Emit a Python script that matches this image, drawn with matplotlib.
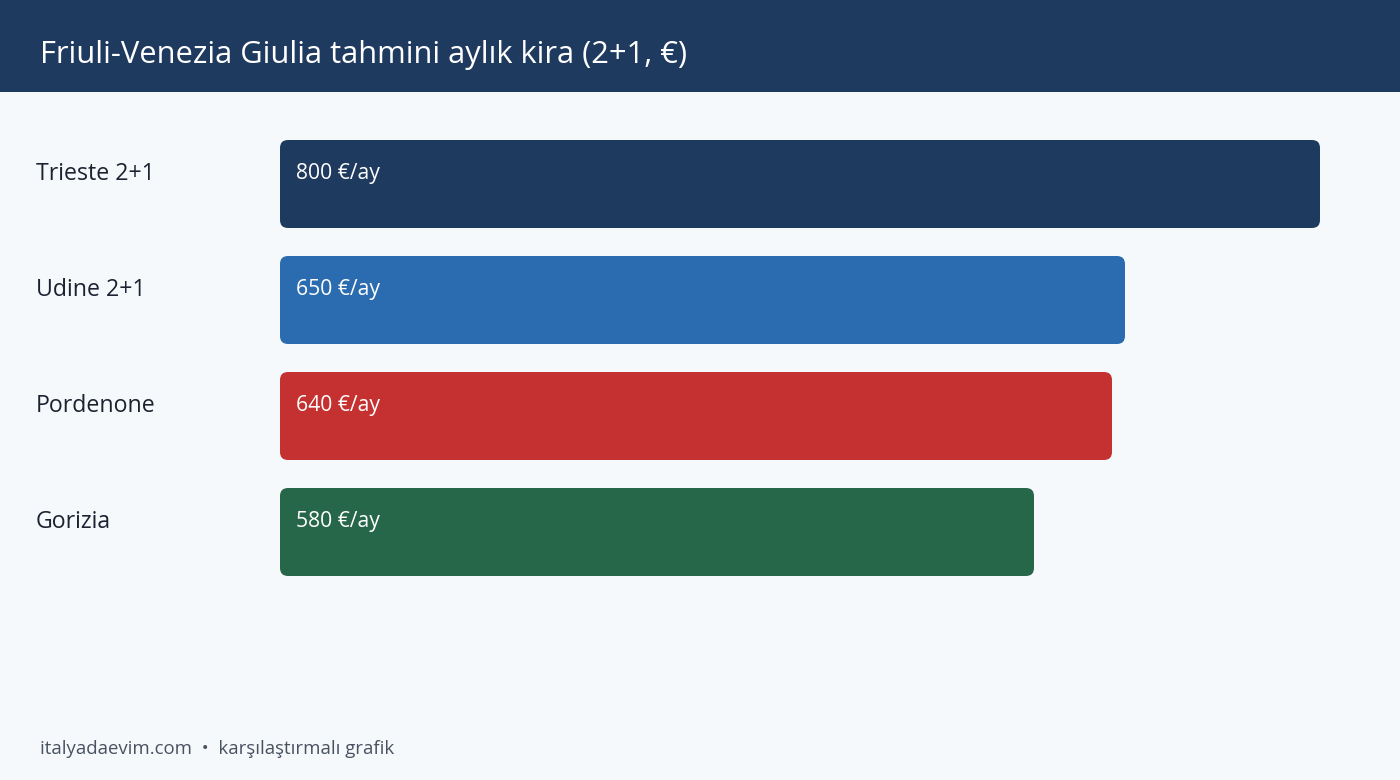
import matplotlib
matplotlib.use('Agg')
import matplotlib.pyplot as plt
from matplotlib.patches import FancyBboxPatch, Rectangle

# data
cities = ['Trieste 2+1', 'Udine 2+1', 'Pordenone', 'Gorizia']
rents = [800, 650, 640, 580]
bar_colors = ['#1F3A5F', '#2B6CB0', '#C53030', '#276749']
title = 'Friuli-Venezia Giulia tahmini aylık kira (2+1, €)'
footer = 'italyadaevim.com  •  karşılaştırmalı grafik'

W, H = 1400, 780
plt.rcParams['font.family'] = ['Open Sans', 'DejaVu Sans']

fig = plt.figure(figsize=(W / 100, H / 100), dpi=100)
fig.patch.set_facecolor('#F5F9FC')

# header band
fig.patches.append(Rectangle((0, 1 - 92 / H), 1, 92 / H, transform=fig.transFigure,
                             facecolor='#1F3A5F', edgecolor='none', zorder=0))
fig.text(40 / W, 1 - 55 / H, title, color='white', fontsize=22.2,
         va='center', ha='left')

# bar axes: x from 280 to 1320 px, rows spaced 116 px
ax_top, ax_bot = 126, 590
ax = fig.add_axes([280 / W, 1 - ax_bot / H, 1040 / W, (ax_bot - ax_top) / H])
ax.set_xlim(0, 800)
ax.set_ylim(len(cities) - 0.5, -0.5)
ax.axis('off')

bar_h = 88 / 116
px_x = 800 / 1040
px_y = 1 / 116
radius = 8 * px_x
bars = ax.barh(range(len(cities)), rents, height=bar_h, color=bar_colors)
for b, c in zip(bars, bar_colors):
    x0, y0 = b.get_x(), b.get_y()
    w, h = b.get_width(), b.get_height()
    b.set_visible(False)
    ax.add_patch(FancyBboxPatch((x0, y0), w, h,
                                boxstyle=f'round,pad=0,rounding_size={radius}',
                                mutation_aspect=px_y / px_x,
                                facecolor=c, edgecolor='none'))

for i, (city, v) in enumerate(zip(cities, rents)):
    ytop = i - bar_h / 2
    ax.text(16 * px_x, ytop + 33.5 * px_y, f'{v} €/ay', color='white',
            fontsize=15.2, va='center', ha='left')
    fig.text(36 / W, 1 - (174 + 116 * i) / H, city, color='#1c2230',
             fontsize=16.7, va='center', ha='left')

fig.text(40 / W, 1 - 749 / H, footer, color='#4a5262', fontsize=13.4,
         va='center', ha='left')

fig.savefig('out.png', dpi=100, facecolor=fig.get_facecolor())
